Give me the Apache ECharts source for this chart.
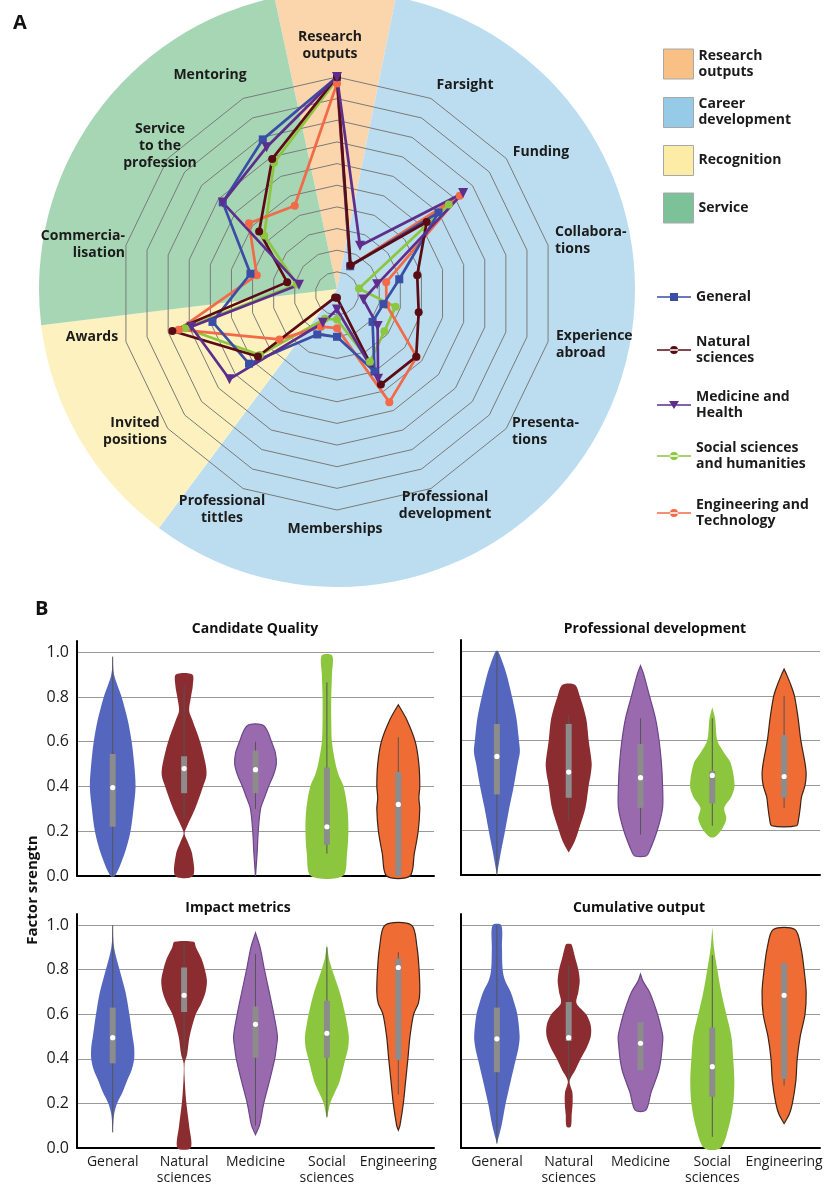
<!DOCTYPE html>
<html><head><meta charset="utf-8">
<script src="https://cdn.jsdelivr.net/npm/echarts@6/dist/echarts.min.js"></script>
<style>html,body{margin:0;padding:0;background:#fff}#c{width:835px;height:1188px}</style>
</head><body><div id="c"></div>
<script>
// ---------------- DATA: panel A (radar) ----------------
// axes listed clockwise from the top
const radarAxes = ['Research\noutputs','Farsight','Funding','Collabora-\ntions','Experience\nabroad','Presenta-\ntions','Professional\ndevelopment','Memberships','Professional\ntittles','Invited\npositions','Awards','Commercia-\nlisation','Service\nto the\nprofession','Mentoring'];
const groupNames = ['General','Natural sciences','Medicine and Health','Social sciences and humanities','Engineering and Technology'];
const groupLabels = ['General','Natural\nsciences','Medicine and\nHealth','Social sciences\nand humanities','Engineering and\nTechnology'];
const generalScores     = [1.00,0.14,0.60,0.295,0.22,0.21,0.40,0.20,0.21,0.52,0.59,0.41,0.675,0.79];
const naturalScores     = [1.00,0.145,0.53,0.38,0.387,0.468,0.467,0.02,0.02,0.467,0.78,0.236,0.46,0.69];
const medicineScores    = [1.00,0.245,0.745,0.19,0.125,0.24,0.437,0.074,0.15,0.635,0.69,0.18,0.675,0.75];
const socialScores      = [0.99,0.14,0.66,0.104,0.277,0.28,0.35,0.12,0.13,0.455,0.72,0.19,0.43,0.67];
const engineeringScores = [0.97,0.14,0.725,0.233,0.234,0.47,0.557,0.16,0.17,0.34,0.75,0.38,0.52,0.45];
const sectorNames = ['Research outputs','Career development','Recognition','Service'];
const sectorLabels = ['Research\noutputs','Career\ndevelopment','Recognition','Service'];
const sectorSpans = [23.5,205.3,46.3,84.9]; // degrees, clockwise

// ---------------- DATA: panel B (violins) ----------------
const violinCats = ['General','Natural\nsciences','Medicine','Social\nsciences','Engineering'];
const panelTitles = ['Candidate Quality','Professional development','Impact metrics','Cumulative output'];
// profile points: [factor strength, relative density]
const cqProfiles = [
 [[0.986,0],[0.9,0.06],[0.8,0.39],[0.7,0.65],[0.6,0.83],[0.5,0.94],[0.4,1.0],[0.3,0.91],[0.2,0.78],[0.1,0.52],[0.0,0.1]],
 [[0.9,0.36],[0.85,0.38],[0.8,0.3],[0.74,0.22],[0.7,0.35],[0.6,0.7],[0.5,0.94],[0.45,0.98],[0.4,0.83],[0.3,0.48],[0.22,0.12],[0.19,0.02],[0.15,0.17],[0.1,0.35],[0.0,0.39]],
 [[0.675,0.3],[0.65,0.51],[0.6,0.7],[0.55,0.87],[0.5,0.91],[0.45,0.78],[0.4,0.57],[0.35,0.39],[0.3,0.22],[0.2,0.12],[0.1,0.07],[0.0,0]],
 [[0.985,0.23],[0.9,0.22],[0.8,0.19],[0.7,0.19],[0.6,0.22],[0.5,0.38],[0.45,0.52],[0.4,0.73],[0.3,0.9],[0.2,0.94],[0.1,0.88],[0.0,0.7]],
 [[0.765,0],[0.7,0.36],[0.6,0.74],[0.5,0.9],[0.4,0.94],[0.35,0.9],[0.3,0.94],[0.2,0.87],[0.1,0.7],[0.0,0.51]]
];
const cqBoxes = [[0.0,0.22,0.395,0.545,0.98],[0.26,0.37,0.48,0.535,0.85],[0.3,0.37,0.475,0.56,0.6],[0.1,0.14,0.22,0.485,0.865],[0.0,0.0,0.32,0.465,0.62]];
const pdProfiles = [
 [[1.0,0.05],[0.95,0.25],[0.9,0.41],[0.8,0.65],[0.7,0.85],[0.6,0.96],[0.55,1.0],[0.5,0.91],[0.4,0.74],[0.3,0.54],[0.2,0.36],[0.1,0.17],[0.0,0]],
 [[0.85,0.27],[0.8,0.48],[0.7,0.76],[0.6,0.87],[0.5,1.0],[0.45,0.96],[0.4,0.87],[0.3,0.73],[0.2,0.43],[0.15,0.26],[0.1,0]],
 [[0.935,0],[0.9,0.13],[0.8,0.39],[0.7,0.65],[0.6,0.81],[0.5,0.91],[0.4,0.96],[0.3,0.96],[0.2,0.73],[0.1,0.36],[0.085,0.25]],
 [[0.75,0],[0.7,0.12],[0.6,0.22],[0.55,0.49],[0.5,0.8],[0.4,0.97],[0.35,0.83],[0.3,0.52],[0.25,0.61],[0.2,0.39],[0.17,0.11]],
 [[0.92,0],[0.9,0.09],[0.85,0.29],[0.8,0.45],[0.7,0.61],[0.6,0.73],[0.5,0.91],[0.45,0.96],[0.4,0.91],[0.35,0.76],[0.3,0.7],[0.25,0.63],[0.22,0.54]]
];
const pdBoxes = [[0.0,0.36,0.53,0.675,1.0],[0.24,0.345,0.46,0.675,0.715],[0.18,0.3,0.435,0.585,0.7],[0.22,0.32,0.445,0.465,0.7],[0.3,0.345,0.44,0.625,0.8]];
const imProfiles = [
 [[1.0,0],[0.9,0.06],[0.8,0.3],[0.7,0.56],[0.6,0.73],[0.5,0.87],[0.45,0.94],[0.4,0.94],[0.35,0.83],[0.3,0.62],[0.25,0.43],[0.2,0.19],[0.15,0.06],[0.07,0]],
 [[0.925,0.42],[0.9,0.52],[0.85,0.76],[0.8,0.91],[0.75,1.0],[0.7,0.94],[0.65,0.76],[0.6,0.51],[0.5,0.24],[0.42,0.13],[0.38,0.02],[0.3,0.03],[0.2,0.1],[0.1,0.22],[0.0,0.29]],
 [[0.965,0],[0.9,0.2],[0.8,0.39],[0.7,0.6],[0.6,0.8],[0.5,0.96],[0.45,0.91],[0.4,0.84],[0.3,0.61],[0.2,0.36],[0.1,0.17],[0.06,0]],
 [[0.915,0],[0.85,0.09],[0.8,0.23],[0.7,0.56],[0.6,0.8],[0.55,0.89],[0.5,0.96],[0.45,0.93],[0.4,0.81],[0.3,0.56],[0.25,0.35],[0.2,0.14],[0.13,0]],
 [[1.0,0.58],[0.9,0.82],[0.8,0.91],[0.7,0.94],[0.65,0.88],[0.6,0.67],[0.5,0.51],[0.4,0.42],[0.3,0.32],[0.2,0.22],[0.1,0.07],[0.08,0]]
];
const imBoxes = [[0.07,0.38,0.495,0.63,1.0],[0.4,0.61,0.685,0.81,0.92],[0.1,0.405,0.555,0.635,0.87],[0.14,0.405,0.515,0.66,0.9],[0.24,0.395,0.81,0.85,0.88]];
const coProfiles = [
 [[1.0,0.19],[0.9,0.22],[0.8,0.25],[0.75,0.36],[0.7,0.6],[0.65,0.76],[0.6,0.89],[0.5,0.99],[0.45,0.94],[0.4,0.83],[0.3,0.6],[0.2,0.38],[0.1,0.2],[0.02,0]],
 [[0.915,0.1],[0.9,0.17],[0.85,0.29],[0.8,0.42],[0.75,0.48],[0.7,0.42],[0.65,0.34],[0.6,0.76],[0.55,0.96],[0.5,0.96],[0.45,0.78],[0.4,0.52],[0.35,0.29],[0.3,0.04],[0.25,0.16],[0.2,0.17],[0.15,0.13],[0.095,0.09]],
 [[0.78,0],[0.75,0.1],[0.7,0.39],[0.65,0.58],[0.6,0.74],[0.55,0.87],[0.5,0.97],[0.45,0.94],[0.4,0.89],[0.35,0.8],[0.3,0.64],[0.25,0.46],[0.17,0.23]],
 [[0.99,0],[0.9,0.07],[0.8,0.22],[0.7,0.39],[0.6,0.61],[0.5,0.83],[0.4,0.91],[0.3,0.96],[0.2,0.91],[0.1,0.73],[0.0,0.36]],
 [[0.98,0.47],[0.9,0.73],[0.8,0.87],[0.7,0.96],[0.6,0.91],[0.5,0.7],[0.4,0.57],[0.3,0.51],[0.2,0.36],[0.15,0.22],[0.11,0]]
];
const coBoxes = [[0.02,0.34,0.49,0.63,1.0],[0.3,0.48,0.495,0.655,0.82],[0.35,0.35,0.47,0.565,0.565],[0.05,0.23,0.365,0.54,0.865],[0.28,0.31,0.685,0.83,0.83]];

// ---------------- STYLE / LAYOUT ----------------
const FONT = '"Open Sans","Noto Sans",sans-serif';
const lineColors = ['#3A4EA6','#5A0B14','#5D2E8C','#8DC63F','#F26A47'];
const symbols = ['rect','circle','triangle','circle','circle'];
const symbolRot = [0,0,180,0,0];
const symbolSizes = [8,8,10,8,8];
const legendIcons = [
 'path://M0,3.2h34v1.6h-34z M13,0h8v8h-8z',
 'path://M0,3.2h34v1.6h-34z M13,4a4,4 0 1,0 8,0a4,4 0 1,0 -8,0z',
 'path://M0,3.2h34v1.6h-34z M12,0h10l-5,8z',
 'path://M0,3.2h34v1.6h-34z M13,4a4,4 0 1,0 8,0a4,4 0 1,0 -8,0z',
 'path://M0,3.2h34v1.6h-34z M13,4a4,4 0 1,0 8,0a4,4 0 1,0 -8,0z'
];
const legendCenters = [297,350,405,456,513];
// radar axis-name placement (clockwise order): [x, y, align]
const axisNameLayout = [[330,46,'center'],[465,85,'center'],[541,152,'center'],[555,241,'left'],[556,345,'left'],[512,432,'left'],
  [445,506,'center'],[335,529,'center'],[222,510,'center'],[135,432,'center'],[92,337,'center'],[125,245,'right'],[160,146,'center'],[210,75,'center']];
const sectorColors = ['#FBD6AC','#BCDDEF','#FDF2BF','#A7D6B5'];
const sectorSwatch = ['#F9C085','#96CBE8','#FDECA5','#7CC197'];
const violinFill = ['#5466BE','#8B2C30','#9A6AAE','#8CC63F','#F06C35'];
const violinStroke = [null,null,'#6B4788',null,'#3A2418'];
const drawOrder = [3,4,0,1,2];
const scoreSets = [generalScores,naturalScores,medicineScores,socialScores,engineeringScores];
const ecOrder = [0,13,12,11,10,9,8,7,6,5,4,3,2,1]; // ECharts lays radar axes counter-clockwise

const chart = echarts.init(document.getElementById('c'), null, {width:835,height:1188});

function violinSeries(k, profiles, boxes) {
  return {
    type:'custom', xAxisIndex:k, yAxisIndex:k, z:3, silent:true,
    data: profiles.map((p,i)=>[i, boxes[i][2]]),
    renderItem: function(params, api){
      const i = params.dataIndex, prof = profiles[i], b = boxes[i];
      const band = api.size([1,0.5],[i,0.5])[0];
      const maxHalf = band*0.32;
      const right=[], left=[];
      prof.forEach(function(pt){
        const c = api.coord([i, pt[0]]);
        right.push([c[0]+pt[1]*maxHalf, c[1]]);
        left.push([c[0]-pt[1]*maxHalf, c[1]]);
      });
      const pts = right.concat(left.reverse());
      const cx = api.coord([i,0])[0];
      const y = v => api.coord([i,v])[1];
      return {type:'group', children:[
        {type:'polygon', shape:{points:pts, smooth:0.3}, style:{fill:violinFill[i], stroke:violinStroke[i]||'none', lineWidth:violinStroke[i]?1.2:0}},
        {type:'line', shape:{x1:cx,y1:y(b[0]),x2:cx,y2:y(b[4])}, style:{stroke:'#555',lineWidth:1}},
        {type:'rect', shape:{x:cx-3,y:y(b[3]),width:6,height:y(b[1])-y(b[3])}, style:{fill:'#8C8C8C'}},
        {type:'circle', shape:{cx:cx,cy:y(b[2]),r:2.6}, style:{fill:'#fff'}}
      ]};
    }
  };
}

const grids = [
  {left:77, top:641, width:357, height:235},
  {left:461, top:640, width:359, height:235},
  {left:77, top:914, width:357, height:234},
  {left:461, top:914, width:359, height:234}
];
const titlePos = [[250,617],[650,617],[233,896],[634,896]];

const option = {
  animation:false,
  backgroundColor:'#fff',
  textStyle:{fontFamily:FONT},
  title: [
    {text:'A', left:8, top:8, textStyle:{fontSize:20,fontWeight:'bold',color:'#111',fontFamily:FONT}},
    {text:'B', left:30, top:594, textStyle:{fontSize:20,fontWeight:'bold',color:'#111',fontFamily:FONT}}
  ].concat(panelTitles.map((t,k)=>({text:t, left:titlePos[k][0], top:titlePos[k][1], textAlign:'center',
      textStyle:{fontSize:14,fontWeight:'bold',color:'#111',fontFamily:FONT}}))),
  legend: [
    {orient:'vertical', left:658, top:43, itemWidth:30, itemHeight:30, itemGap:16.5, selectedMode:false,
     icon:'rect',
     data: sectorNames.map((n,i)=>({name:n, itemStyle:{color:sectorSwatch[i], borderColor:'#a8a8a8', borderWidth:1}})),
     formatter: n => sectorLabels[sectorNames.indexOf(n)],
     textStyle:{fontSize:14,fontWeight:'bold',color:'#1b1b1b',lineHeight:16,fontFamily:FONT}}
  ].concat(groupNames.map((n,i)=>({
     orient:'vertical', left:652, top:legendCenters[i]-(i===0?8:16)-5, itemWidth:34, itemHeight:8, selectedMode:false,
     data:[{name:n, icon:legendIcons[i], itemStyle:{color:lineColors[i], borderWidth:0}}],
     formatter: () => groupLabels[i],
     textStyle:{fontSize:14,fontWeight:'bold',color:'#1b1b1b',lineHeight:16,fontFamily:FONT}}))),
  radar: {
    center:[337,293.5], radius:216.5, startAngle:90, splitNumber:10, shape:'polygon', z:1,
    indicator: ecOrder.map(i=>({name:radarAxes[i], min:0, max:1})),
    axisName:{show:false},
    axisLine:{show:false}, axisTick:{show:false}, axisLabel:{show:false},
    splitArea:{show:false},
    splitLine:{lineStyle:{color:'#7a7a7a', width:1}}
  },
  grid: grids,
  xAxis: grids.map((g,k)=>({type:'category', gridIndex:k, data:violinCats,
    axisLine:{lineStyle:{color:'#000',width:2}}, axisTick:{show:false},
    axisLabel:{show:k>=2, fontSize:14, color:'#1b1b1b', lineHeight:16, margin:6, fontFamily:FONT, interval:0},
    splitLine:{show:false}})),
  yAxis: grids.map((g,k)=>({type:'value', gridIndex:k, min:0, max:1.05, interval:0.2,
    axisLine:{show:true, lineStyle:{color:'#000',width:2}}, axisTick:{show:false},
    axisLabel:{show:k%2===0, showMaxLabel:false, fontSize:16, color:'#1b1b1b', margin:8, fontFamily:FONT,
      formatter: v => Math.abs(v*5-Math.round(v*5))<1e-6 ? v.toFixed(1) : ''},
    splitLine:{show:true, lineStyle:{width:1, color:['#9a9a9a','#9a9a9a','#9a9a9a','#9a9a9a','#9a9a9a','#9a9a9a','rgba(0,0,0,0)']}}})),
  graphic: [{type:'text', x:33, y:890, rotation:Math.PI/2, z:10,
    style:{text:'Factor srengtn', fontSize:15, fontWeight:'bold', fontFamily:FONT, fill:'#111', align:'center', verticalAlign:'middle'}}]
    .concat(radarAxes.map((n,i)=>({type:'text', x:axisNameLayout[i][0], y:axisNameLayout[i][1], z:10, silent:true,
      style:{text:n, fontSize:14, fontWeight:'bold', fontFamily:FONT, fill:'#1b1b1b', lineHeight:17,
             align:axisNameLayout[i][2], verticalAlign:'middle'}}))),
  series: [
    {type:'pie', center:[337,289], radius:[0,298], startAngle:102.1, clockwise:true, silent:true, z:0,
     label:{show:false}, labelLine:{show:false}, emphasis:{disabled:true},
     itemStyle:{borderWidth:0},
     data: sectorNames.map((n,i)=>({name:n, value:sectorSpans[i], itemStyle:{color:sectorColors[i]}}))}
  ].concat(drawOrder.map(i=>({
     type:'radar', name:groupNames[i], z:3, silent:true,
     symbol:symbols[i], symbolSize:symbolSizes[i], symbolRotate:symbolRot[i],
     itemStyle:{color:lineColors[i]}, lineStyle:{color:lineColors[i], width:2.7},
     data:[{name:groupNames[i], value: ecOrder.map(j=>scoreSets[i][j])}]
  }))).concat([
     violinSeries(0,cqProfiles,cqBoxes),
     violinSeries(1,pdProfiles,pdBoxes),
     violinSeries(2,imProfiles,imBoxes),
     violinSeries(3,coProfiles,coBoxes)
  ])
};
chart.setOption(option);
</script></body></html>
